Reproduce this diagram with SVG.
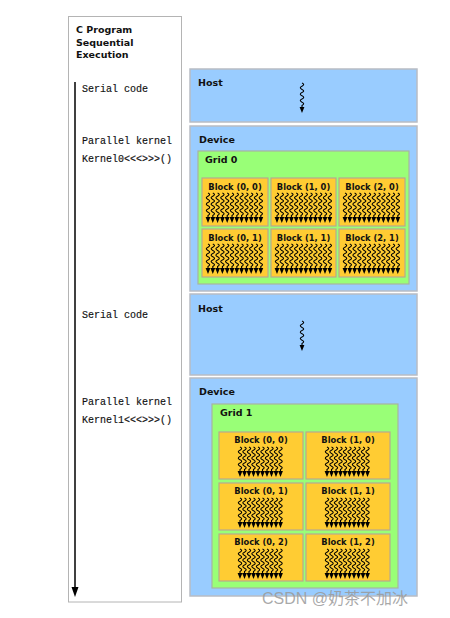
<svg xmlns="http://www.w3.org/2000/svg" xmlns:xlink="http://www.w3.org/1999/xlink" width="450" height="618" viewBox="0 0 450 618">
<style>
.panel{fill:#fff;stroke:#b4b4b4;stroke-width:1}
.blue{fill:#99ccff;stroke:#b8bcc4;stroke-width:1.5}
.grid{fill:#99ff77;stroke:#a8b4a0;stroke-width:1.2}
.blk{fill:#ffcc33;stroke:#b8a890;stroke-width:1.2}
.lbl{font-family:"DejaVu Sans",Verdana,sans-serif;font-weight:bold;font-size:9.5px;fill:#111}
.bl{font-family:"DejaVu Sans",Verdana,sans-serif;font-weight:bold;font-size:8.3px;fill:#111;text-anchor:middle}
.code{font-family:"Liberation Mono","Courier New",monospace;font-size:10px;fill:#111;stroke:#111;stroke-width:0.15}
.wave{fill:none;stroke:#000;stroke-width:1.1}
</style>
<defs>
<g id="t">
<path class="wave" d="M0,0 q3.4,1.6 0,3.2 q-3.4,1.6 0,3.2 q3.4,1.6 0,3.2 q-3.4,1.6 0,3.2 q3.4,1.6 0,3.2 q-3.4,1.6 0,3.2 q3.4,1.6 0,3.2 L0,26"/>
<polygon points="-2.4,24 2.4,24 0,30" fill="#000"/>
</g>
<g id="r12">
<use xlink:href="#t" x="0"/><use xlink:href="#t" x="4.8"/><use xlink:href="#t" x="9.6"/><use xlink:href="#t" x="14.4"/><use xlink:href="#t" x="19.2"/><use xlink:href="#t" x="24"/><use xlink:href="#t" x="28.8"/><use xlink:href="#t" x="33.6"/><use xlink:href="#t" x="38.4"/><use xlink:href="#t" x="43.2"/><use xlink:href="#t" x="48"/><use xlink:href="#t" x="52.8"/>
</g>
<g id="r10">
<use xlink:href="#t" x="0"/><use xlink:href="#t" x="4.5"/><use xlink:href="#t" x="9"/><use xlink:href="#t" x="13.5"/><use xlink:href="#t" x="18"/><use xlink:href="#t" x="22.5"/><use xlink:href="#t" x="27"/><use xlink:href="#t" x="31.5"/><use xlink:href="#t" x="36"/><use xlink:href="#t" x="40.5"/>
</g>
</defs>
<rect width="450" height="618" fill="#fff"/>

<g id="program">
<rect class="panel" x="68.5" y="16.5" width="113" height="585.5"/>
<text class="lbl" x="76" y="33">C Program</text>
<text class="lbl" x="76" y="46">Sequential</text>
<text class="lbl" x="76" y="58">Execution</text>
<text class="code" x="82" y="92">Serial code</text>
<text class="code" x="82" y="144">Parallel kernel</text>
<text class="code" x="82" y="162">Kernel0&lt;&lt;&lt;&gt;&gt;&gt;()</text>
<text class="code" x="82" y="318">Serial code</text>
<text class="code" x="82" y="405">Parallel kernel</text>
<text class="code" x="82" y="423">Kernel1&lt;&lt;&lt;&gt;&gt;&gt;()</text>
</g>

<g id="connectors">
<line x1="75" y1="82" x2="75" y2="588" stroke="#000" stroke-width="1.5"/>
<polygon points="71.5,587 78.5,587 75,597" fill="#000"/>
</g>

<g id="host1">
<rect class="blue" x="190" y="69" width="227" height="53"/>
<text class="lbl" x="198" y="86">Host</text>
<use xlink:href="#t" x="302" y="83"/>
</g>

<g id="device1">
<rect class="blue" x="190" y="126" width="227" height="165"/>
<text class="lbl" x="199" y="143">Device</text>
<g id="grid0">
<rect class="grid" x="198" y="151" width="211" height="133"/>
<text class="lbl" x="205" y="163">Grid 0</text>
<g id="g0b00"><rect class="blk" x="202" y="178" width="66" height="48"/><text class="bl" x="235" y="190">Block (0, 0)</text><use xlink:href="#r12" x="208" y="193"/></g>
<g id="g0b10"><rect class="blk" x="271" y="178" width="65" height="48"/><text class="bl" x="303.5" y="190">Block (1, 0)</text><use xlink:href="#r12" x="277" y="193"/></g>
<g id="g0b20"><rect class="blk" x="339" y="178" width="66" height="48"/><text class="bl" x="372" y="190">Block (2, 0)</text><use xlink:href="#r12" x="345" y="193"/></g>
<g id="g0b01"><rect class="blk" x="202" y="229" width="66" height="48"/><text class="bl" x="235" y="241">Block (0, 1)</text><use xlink:href="#r12" x="208" y="244"/></g>
<g id="g0b11"><rect class="blk" x="271" y="229" width="65" height="48"/><text class="bl" x="303.5" y="241">Block (1, 1)</text><use xlink:href="#r12" x="277" y="244"/></g>
<g id="g0b21"><rect class="blk" x="339" y="229" width="66" height="48"/><text class="bl" x="372" y="241">Block (2, 1)</text><use xlink:href="#r12" x="345" y="244"/></g>
</g>
</g>

<g id="host2">
<rect class="blue" x="190" y="294" width="227" height="81"/>
<text class="lbl" x="198" y="312">Host</text>
<use xlink:href="#t" x="302" y="321"/>
</g>

<g id="device2">
<rect class="blue" x="190" y="378" width="227" height="218"/>
<text class="lbl" x="199" y="395">Device</text>
<g id="grid1">
<rect class="grid" x="212" y="404" width="186" height="184"/>
<text class="lbl" x="220" y="416">Grid 1</text>
<g id="g1b00"><rect class="blk" x="219" y="432" width="84" height="47"/><text class="bl" x="261" y="443">Block (0, 0)</text><use xlink:href="#r10" x="240" y="447"/></g>
<g id="g1b10"><rect class="blk" x="306" y="432" width="84" height="47"/><text class="bl" x="348" y="443">Block (1, 0)</text><use xlink:href="#r10" x="327" y="447"/></g>
<g id="g1b01"><rect class="blk" x="219" y="483" width="84" height="47"/><text class="bl" x="261" y="494">Block (0, 1)</text><use xlink:href="#r10" x="240" y="498"/></g>
<g id="g1b11"><rect class="blk" x="306" y="483" width="84" height="47"/><text class="bl" x="348" y="494">Block (1, 1)</text><use xlink:href="#r10" x="327" y="498"/></g>
<g id="g1b02"><rect class="blk" x="219" y="534" width="84" height="47"/><text class="bl" x="261" y="545">Block (0, 2)</text><use xlink:href="#r10" x="240" y="549"/></g>
<g id="g1b12"><rect class="blk" x="306" y="534" width="84" height="47"/><text class="bl" x="348" y="545">Block (1, 2)</text><use xlink:href="#r10" x="327" y="549"/></g>
</g>
</g>

<text x="262" y="604" font-family="'Liberation Sans','Noto Sans CJK SC',sans-serif" font-size="16" fill="#9a9a9a" fill-opacity="0.85">CSDN @奶茶不加冰</text>
</svg>
